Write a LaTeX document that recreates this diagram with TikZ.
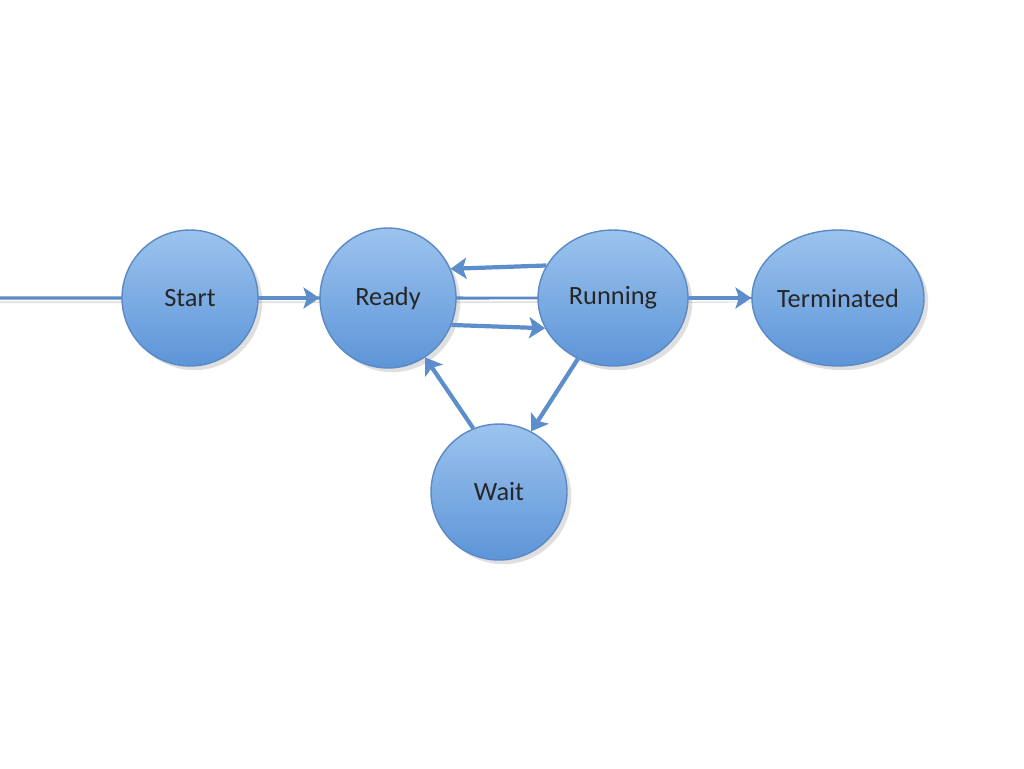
\documentclass[tikz,border=0pt]{standalone}
\usepackage{fontspec}
\setmainfont{Carlito}
\usetikzlibrary{shapes.geometric,arrows.meta,shadows}
\definecolor{statetop}{HTML}{9CC3EE}
\definecolor{statebot}{HTML}{5D95D8}
\definecolor{stateline}{HTML}{5A89C4}
\definecolor{arrowcol}{HTML}{5C8ECB}
\tikzset{
  state/.style={ellipse, draw=stateline, line width=0.8pt, top color=statetop, bottom color=statebot,
    inner sep=0pt, font=\fontsize{15}{15}\selectfont, text=black!85, drop shadow={opacity=0.25}},
  trans/.style={draw=arrowcol, line width=2.4pt, -{Stealth[length=9pt,width=12pt,inset=2pt]}}
}
\begin{document}
\begin{tikzpicture}[x=0.02cm,y=-0.02cm]
  \useasboundingbox (0,0) rectangle (1024,768);
  \node[state, minimum width=136\pgfmathresult*0.02cm+0cm] (start) at (190,298) {};
  \node[state, minimum width=2.72cm, minimum height=2.72cm] (start) at (190,298) {Start};
  \node[state, minimum width=2.72cm, minimum height=2.8cm] (ready) at (388,298) {Ready};
  \node[state, minimum width=3.0cm, minimum height=2.72cm] (run) at (613,298) {Running};
  \node[state, minimum width=3.36cm, minimum height=2.72cm] (term) at (838,298) {Terminated};
  \node[state, minimum width=2.72cm, minimum height=2.72cm] (wait) at (499,492) {Wait};

  \foreach \from/\to in {start/ready, run.154/ready.25, ready.-23/run.-156, run/term, run.-120/wait.62, wait.112/ready.-58}
    \draw[trans] (\from) -- (\to);
\end{tikzpicture}
\end{document}
